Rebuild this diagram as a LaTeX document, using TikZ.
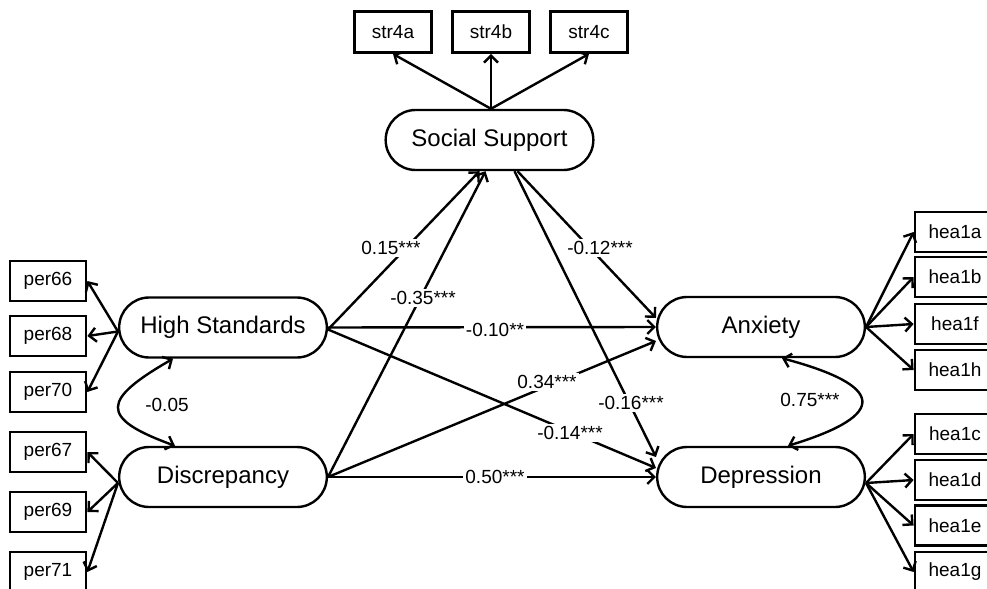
\documentclass[tikz,border=0pt]{standalone}
\usepackage{fontspec}
\setmainfont{Liberation Sans}
\usetikzlibrary{shapes.misc,arrows.meta}

\tikzset{
  latent/.style={rounded rectangle, draw, line width=1.2pt, minimum width=110.5pt, minimum height=30pt, font=\fontsize{12}{14}\selectfont},
  item/.style={rectangle, draw, line width=1.4pt, minimum width=38pt, minimum height=20pt, inner sep=0pt, font=\fontsize{9.5}{11}\selectfont},
  reg/.style={-{Straight Barb[length=3.5pt,width=7pt]}, line width=1.2pt},
  cov/.style={{Straight Barb[length=3.5pt,width=7pt]}-{Straight Barb[length=3.5pt,width=7pt]}, line width=1.2pt},
  coef/.style={fill=white, inner sep=1pt, font=\fontsize{9.5}{11}\selectfont},
}

\begin{document}
\begin{tikzpicture}[x=0.5pt,y=-0.5pt]
\useasboundingbox (0,0) rectangle (987,589);
\node[item, minimum width=38.5pt, minimum height=20.5pt] (str4a) at (393,32) {str4a};
\node[item, minimum width=38.5pt, minimum height=20.5pt] (str4b) at (491,32) {str4b};
\node[item, minimum width=38.5pt, minimum height=20.5pt] (str4c) at (589,32) {str4c};
\node[item] (per66) at (48,281) {per66};
\node[item] (per68) at (48,336) {per68};
\node[item] (per70) at (48,392) {per70};
\node[item] (per67) at (48,452) {per67};
\node[item] (per69) at (48,512) {per69};
\node[item] (per71) at (48,572) {per71};
\node[item, minimum width=40pt] (hea1a) at (955,232) {hea1a};
\node[item, minimum width=40pt] (hea1b) at (955,277) {hea1b};
\node[item, minimum width=40pt] (hea1f) at (955,324) {hea1f};
\node[item, minimum width=40pt] (hea1h) at (955,370) {hea1h};
\node[item, minimum width=40pt] (hea1c) at (955,434) {hea1c};
\node[item, minimum width=40pt] (hea1d) at (955,480) {hea1d};
\node[item, minimum width=40pt] (hea1e) at (955,525.5) {hea1e};
\node[item, minimum width=40pt] (hea1g) at (955,572) {hea1g};

\node[latent] (ss) at (489.5,140) {Social Support};
\node[latent] (hs) at (223,327.5) {High Standards};
\node[latent] (disc) at (223,477) {Discrepancy};
\node[latent] (anx) at (761,327) {Anxiety};
\node[latent] (dep) at (761,477) {Depression};

\foreach \n in {str4a,str4b,str4c}
  \draw[reg] ([xshift=0.75pt]ss.north) -- (\n.south);
\foreach \n in {per66,per68,per70}
  \draw[reg] ([yshift=-2pt]hs.west) -- (\n.east);
\foreach \n in {per67,per69,per71}
  \draw[reg] ([yshift=-3pt]disc.west) -- (\n.east);
\foreach \n in {hea1a,hea1b,hea1f,hea1h}
  \draw[reg] (anx.east) -- (\n.west);
\foreach \n in {hea1c,hea1d,hea1e,hea1g}
  \draw[reg] ([yshift=-3pt]dep.east) -- (\n.west);

\draw[reg] ([yshift=-1pt]hs.east) -- ([xshift=-5pt]ss.south);
\draw[reg] (disc.east) -- ([xshift=-2pt]ss.south);
\draw[reg] ([xshift=14pt]ss.south) -- ([yshift=4.5pt]anx.west);
\draw[reg] ([xshift=12.5pt]ss.south) -- ([yshift=10pt]dep.west);
\draw[reg] (hs.east) -- (anx.west);
\draw[reg] ([yshift=-1pt]hs.east) -- ([yshift=4.5pt]dep.west);
\draw[reg] (disc.east) -- ([yshift=-7pt]anx.west);
\draw[reg] (disc.east) -- (dep.west);

\draw[cov] ([xshift=-25pt]hs.south) to[out=210,in=160,looseness=2.4] ([xshift=-24pt]disc.north);
\draw[cov] ([xshift=10.5pt]anx.south) to[out=-15,in=17,looseness=3.1] ([xshift=13.5pt]dep.north);

\node[coef] (b1) at (391,248) {0.15***};
\node[coef] (b2) at (423,298) {-0.35***};
\node[coef] (b3) at (600,248) {-0.12***};
\node[coef] (b4) at (495,330) {-0.10**};
\node[coef] (b5) at (547,382) {0.34***};
\node[coef] (b6) at (631,403) {-0.16***};
\node[coef] (b7) at (570,433) {-0.14***};
\node[coef] (b8) at (495,477) {0.50***};
\node[coef] (r1) at (167,405) {-0.05};
\node[coef] (r2) at (810,400) {0.75***};
\end{tikzpicture}
\end{document}
